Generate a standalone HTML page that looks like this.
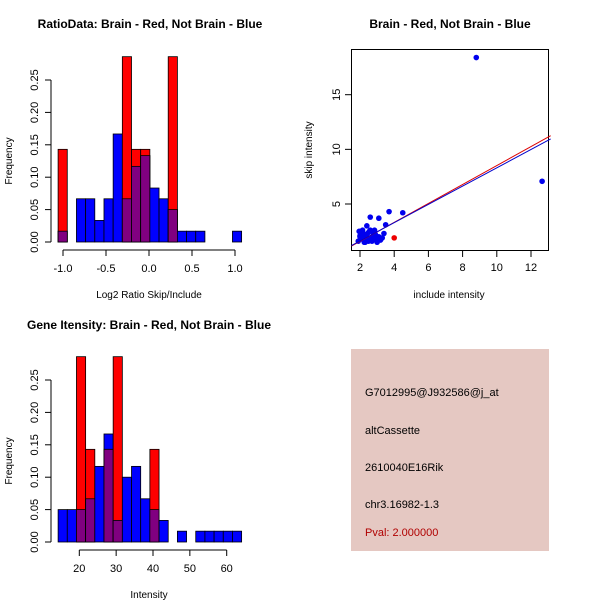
<!DOCTYPE html>
<html><head><meta charset="utf-8"><style>
body{margin:0;background:#fff}
svg{display:block;font-family:"Liberation Sans",sans-serif}
</style></head><body>
<svg id="s" width="600" height="600" viewBox="0 0 600 600">
<rect width="600" height="600" fill="#fff"/>
<text x="150" y="28" font-size="12" font-weight="bold" text-anchor="middle">RatioData: Brain - Red, Not Brain - Blue</text>
<text x="450" y="28" font-size="12" font-weight="bold" text-anchor="middle">Brain - Red, Not Brain - Blue</text>
<text x="149" y="329" font-size="12" font-weight="bold" text-anchor="middle">Gene Itensity: Brain - Red, Not Brain - Blue</text>
<g id="h1"></g>
<g id="h2"></g>
<g id="sc"></g>
<g>
<rect x="351" y="349" width="198" height="202" fill="#E5C8C2"/>
<text x="365" y="396" font-size="11">G7012995@J932586@j_at</text>
<text x="365" y="434" font-size="11">altCassette</text>
<text x="365" y="471" font-size="11">2610040E16Rik</text>
<text x="365" y="508" font-size="11">chr3.16982-1.3</text>
<text x="365" y="536" font-size="11" fill="#b00000">Pval: 2.000000</text>
</g>
</svg>
<script>
const ratioBlue=[0.0167,0,0.0667,0.0667,0.0333,0.0667,0.1667,0.0667,0.1167,0.1333,0.0833,0.0667,0.05,0.0167,0.0167,0.0167,0,0,0,0.0167];
const ratioRed=[0.143,0,0,0,0,0,0,0.286,0.143,0.143,0,0,0.286,0,0,0,0,0,0,0];
const ratioStart=-1.057, ratioWidth=0.1067;
const ratioTicks=[-1.0,-0.5,0.0,0.5,1.0];
const intBlue=[0.05,0.05,0.05,0.0667,0.1167,0.1667,0.0333,0.1,0.1167,0.0667,0.05,0.0333,0,0.0167,0,0.0167,0.0167,0.0167,0.0167,0.0167];
const intRed=[0,0,0.286,0.143,0,0.143,0.286,0,0,0,0.143,0,0,0,0,0,0,0,0,0];
const intStart=14.25, intWidth=2.49;
const intTicks=[20,30,40,50,60];
const yTicks=[0,0.05,0.10,0.15,0.20,0.25];
const blueX=[8.8,12.65,2.6,3.1,3.7,4.5,2.4,3.5,1.9,2.0,2.1,2.2,2.3,2.4,2.5,2.6,2.7,2.8,2.9,3.0,3.1,3.2,3.3,1.95,2.05,2.15,2.25,2.35,2.45,2.55,2.65,2.75,2.85,2.95,2.2,2.5,2.8,3.4,2.0,2.6,2.3,2.9];
const blueY=[18.4,7.08,3.8,3.7,4.3,4.2,3.0,3.1,1.6,2.1,1.8,2.3,1.7,2.0,2.4,1.9,1.6,2.2,1.8,1.5,2.0,1.7,1.9,2.5,1.8,2.6,1.5,2.2,1.7,2.5,1.8,2.0,2.6,1.9,2.1,1.6,2.4,2.3,2.0,2.6,1.5,2.2];
const redX=[4.0], redY=[1.9];
const scXTicks=[2,4,6,8,10,12], scYTicks=[5,10,15];
const blueFit=[1.5,1.2,13.15,10.95], redFit=[1.5,1.15,13.15,11.25];
const NS='http://www.w3.org/2000/svg';
function mk(p,t,a){const e=document.createElementNS(NS,t);for(const k in a)e.setAttribute(k,a[k]);p.appendChild(e);return e;}
function hist(g,blue,red,start,w,ticks,x0,x1,v0,v1,yBase,xlab){
  const xs=v=>x0+(v-v0)*(x1-x0)/(v1-v0);
  const ys=v=>yBase-v*(162/0.25);
  for(let i=0;i<blue.length;i++){
    const a=xs(start+i*w),b=xs(start+(i+1)*w);
    const layers=[[blue[i],'#0000ff'],[red[i],'#ff0000'],[Math.min(blue[i],red[i]),'#800080']];
    for(const [v,c] of layers){ if(v<=0)continue;
      const r=mk(g,'rect',{x:a,y:ys(v),width:b-a,height:yBase-ys(v),fill:c,stroke:'#000','stroke-width':0.8});
      
      }
  }
  mk(g,'line',{x1:51,x2:51,y1:ys(0),y2:ys(0.25),stroke:'#000'});
  for(const t of yTicks){mk(g,'line',{x1:45,x2:51,y1:ys(t),y2:ys(t),stroke:'#000'});
    const tx=mk(g,'text',{x:38,y:ys(t),'font-size':11,'text-anchor':'middle',transform:`rotate(-90 38 ${ys(t)})`});tx.textContent=t.toFixed(2);
    
    }
  const ya=yBase+8;
  mk(g,'line',{x1:xs(ticks[0]),x2:xs(ticks[ticks.length-1]),y1:ya,y2:ya,stroke:'#000'});
  for(const t of ticks){mk(g,'line',{x1:xs(t),x2:xs(t),y1:ya,y2:ya+6,stroke:'#000'});
    const tx=mk(g,'text',{x:xs(t),y:ya+22,'font-size':11,'text-anchor':'middle'});tx.textContent=(ticks[0]<0)?t.toFixed(1):t;
    
    }
  const yl=mk(g,'text',{x:12,y:yBase-81,'font-size':10,'text-anchor':'middle',transform:`rotate(-90 12 ${yBase-81})`});yl.textContent='Frequency';
  
  
  const xl=mk(g,'text',{x:149,y:yBase+56,'font-size':10,'text-anchor':'middle'});xl.textContent=xlab;
  
  
}
hist(document.getElementById('h1'),ratioBlue,ratioRed,ratioStart,ratioWidth,ratioTicks,63,235,-1,1,242,'Log2 Ratio Skip/Include');
hist(document.getElementById('h2'),intBlue,intRed,intStart,intWidth,intTicks,79.3,226.7,20,60,542,'Intensity');
(function(){
  const g=document.getElementById('sc');
  const xs=v=>360+(v-2)*17.1, ys=v=>204-(v-5)*10.93;
  mk(g,'rect',{x:351.5,y:49.5,width:197,height:201,fill:'none',stroke:'#000'});
  for(let i=0;i<blueX.length;i++){const c=mk(g,'circle',{cx:xs(blueX[i]),cy:ys(blueY[i]),r:2.8,fill:'#0000ee'});
    
    }
  for(let i=0;i<redX.length;i++){const c=mk(g,'circle',{cx:xs(redX[i]),cy:ys(redY[i]),r:2.8,fill:'#ee0000'});
    
    }
  const rl=mk(g,'line',{x1:xs(redFit[0]),y1:ys(redFit[1]),x2:xs(redFit[2]),y2:ys(redFit[3]),stroke:'#dd0000'});
  
  
  const bl=mk(g,'line',{x1:xs(blueFit[0]),y1:ys(blueFit[1]),x2:xs(blueFit[2]),y2:ys(blueFit[3]),stroke:'#0000cc'});
  
  
  for(const t of scXTicks){mk(g,'line',{x1:xs(t),x2:xs(t),y1:251,y2:257,stroke:'#000'});
    const tx=mk(g,'text',{x:xs(t),y:271,'font-size':11,'text-anchor':'middle'});tx.textContent=t;
    
    }
  for(const t of scYTicks){mk(g,'line',{x1:345,x2:351,y1:ys(t),y2:ys(t),stroke:'#000'});
    const tx=mk(g,'text',{x:340,y:ys(t),'font-size':11,'text-anchor':'middle',transform:`rotate(-90 340 ${ys(t)})`});tx.textContent=t;
    
    }
  const xl=mk(g,'text',{x:449,y:298,'font-size':10,'text-anchor':'middle'});xl.textContent='include intensity';
  
  
  const yl=mk(g,'text',{x:312,y:150,'font-size':10,'text-anchor':'middle',transform:'rotate(-90 312 150)'});yl.textContent='skip intensity';
  
  
})();
</script>
</body></html>
